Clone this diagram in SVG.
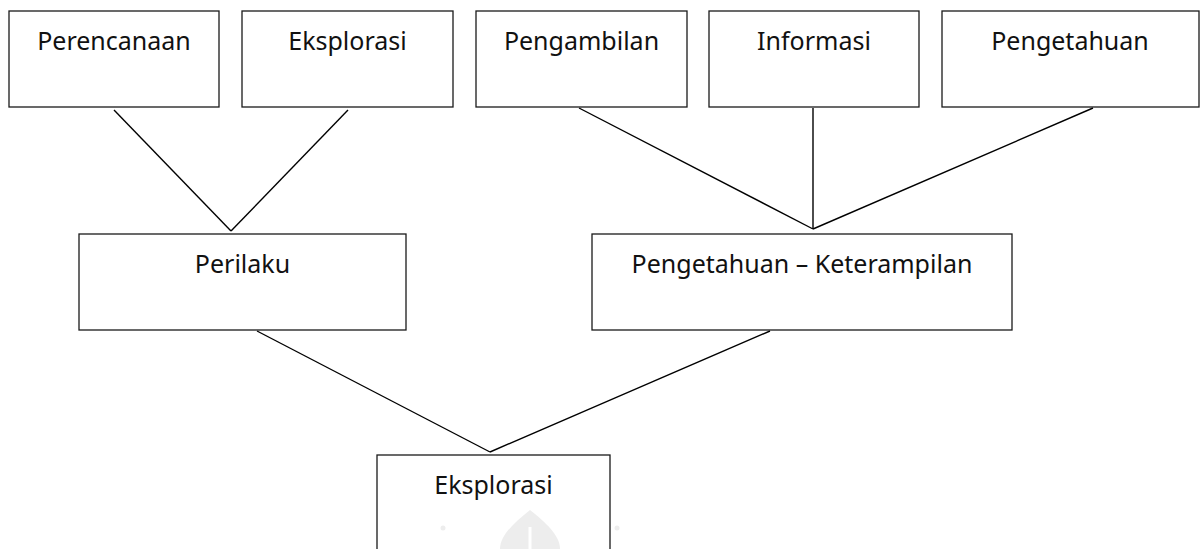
<svg xmlns="http://www.w3.org/2000/svg" width="1200" height="549" viewBox="0 0 1200 549">
<style>
.box{fill:#fff;stroke:#1a1a1a;stroke-width:1.3}
.lbl{font-family:"Noto Sans","Open Sans","Liberation Sans",sans-serif;font-size:25px;fill:#111;text-anchor:middle}
.con line{stroke:#000;stroke-width:1.4}
</style>
<rect width="1200" height="549" fill="#fff"/>
<g id="watermark" fill="#ededed">
<path d="M530 510 C 545 522, 560 535, 560 549 L 500 549 C 500 535, 515 522, 530 510 Z"/>
<rect x="528.5" y="527" width="3" height="22" fill="#fff"/>
<circle cx="443" cy="528" r="2.5"/>
<circle cx="617" cy="528" r="2.5"/>
</g>
<g id="connectors" class="con">
<line x1="114" y1="110" x2="231" y2="231"/>
<line x1="348" y1="110" x2="231" y2="231"/>
<line x1="579" y1="108" x2="813" y2="229"/>
<line x1="813" y1="108" x2="813" y2="229"/>
<line x1="1093" y1="108" x2="813" y2="229"/>
<line x1="257" y1="331" x2="490" y2="452"/>
<line x1="770" y1="331" x2="490" y2="452"/>
</g>
<g id="n-perencanaan"><rect class="box" x="9" y="11" width="210" height="96"/><text class="lbl" x="114" y="50">Perencanaan</text></g>
<g id="n-eksplorasi-top"><rect class="box" x="242" y="11" width="211" height="96"/><text class="lbl" x="347.5" y="50">Eksplorasi</text></g>
<g id="n-pengambilan"><rect class="box" x="476" y="11" width="211" height="96"/><text class="lbl" x="581.5" y="50">Pengambilan</text></g>
<g id="n-informasi"><rect class="box" x="709" y="11" width="210" height="96"/><text class="lbl" x="814" y="50">Informasi</text></g>
<g id="n-pengetahuan"><rect class="box" x="942" y="11" width="257" height="96"/><text class="lbl" x="1070" y="50">Pengetahuan</text></g>
<g id="n-perilaku"><rect class="box" x="79" y="234" width="327" height="96"/><text class="lbl" x="242.5" y="273">Perilaku</text></g>
<g id="n-pengetahuan-keterampilan"><rect class="box" x="592" y="234" width="420" height="96"/><text class="lbl" x="802" y="273">Pengetahuan – Keterampilan</text></g>
<g id="n-eksplorasi-bottom"><rect class="box" x="377" y="455" width="233" height="110" style="fill:none"/><text class="lbl" x="493.5" y="494">Eksplorasi</text></g>
</svg>
